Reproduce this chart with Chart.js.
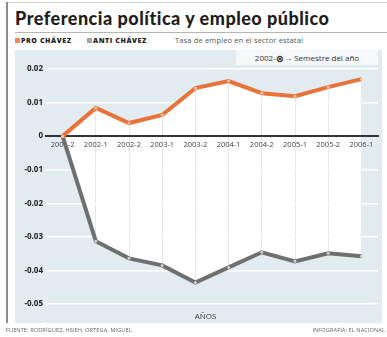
<!DOCTYPE html>
<html>
<head>
<meta charset="utf-8">
<script src="https://cdn.jsdelivr.net/npm/chart.js@4"></script>
<style>
  body { margin: 0; background: #fff; width: 387px; height: 337px; position: relative; overflow: hidden; font-family: "Open Sans", sans-serif; }
  .top { position: absolute; left: 6px; right: 0; top: 2px; height: 1px; background: #d4d4d4; }
  .edge { position: absolute; left: 6px; top: 2px; width: 2px; height: 321px; background: #8c8c8c; }
  h1 { position: absolute; left: 15px; top: 7px; margin: 0; font: 900 18px Lato, sans-serif; letter-spacing: 0.5px; color: #1e1e1e; white-space: nowrap; }
  .rule { position: absolute; left: 15px; right: 0; top: 32px; height: 1px; background: #b5b5b5; }
  .sq { position: absolute; top: 38px; width: 5px; height: 5px; }
  .lg { position: absolute; top: 35px; font-size: 7px; line-height: 11px; white-space: nowrap; }
  .lg.b { font-weight: 800; color: #222; letter-spacing: 0.6px; }
  .lg.n { font-size: 7.5px; color: #555; letter-spacing: 0.15px; }
  .panel { position: absolute; left: 15px; top: 50px; width: 367px; height: 273px; background: #e1ebf0; }
  .key { position: absolute; right: 4px; top: 0; width: 142px; height: 15px; background: #f6f9fa; font-size: 8px; color: #333; line-height: 15px; text-align: center; white-space: nowrap; }
  .key span { font: bold 10px "DejaVu Sans", sans-serif; vertical-align: -1px; }
  .axis { position: absolute; left: 0; width: 100%; bottom: 2px; text-align: center; font-size: 8px; color: #333; padding-left: 14px; box-sizing: border-box; }
  .foot { position: absolute; top: 326px; font-size: 5.6px; color: #666; white-space: nowrap; letter-spacing: 0.1px; }
  canvas { position: absolute; left: 0; top: 0; }
</style>
</head>
<body>
<div class="top"></div>
<div class="edge"></div>
<h1>Preferencia política y empleo público</h1>
<div class="rule"></div>
<div class="sq" style="left:15px;background:#ef8a4c"></div>
<div class="lg b" style="left:21px">PRO CHÁVEZ</div>
<div class="sq" style="left:87px;background:#a5a5a5"></div>
<div class="lg b" style="left:93px">ANTI CHÁVEZ</div>
<div class="lg n" style="left:175px">Tasa de empleo en el sector estatal</div>
<div class="panel">
  <div style="position:absolute;left:0;top:0;width:367px;height:273px"><canvas id="empleoChart"></canvas></div>
  <div class="key">2002-<span>⊗</span>→ Semestre del año</div>
  <div class="axis">AÑOS</div>
</div>
<div class="foot" style="left:6px">FUENTE: RODRÍGUEZ, HSIEH, ORTEGA, MIGUEL</div>
<div class="foot" style="right:2px">INFOGRAFÍA: EL NACIONAL</div>

<script>
// Semestres y tasa de empleo estatal por grupo
const semestres = ["2001-2", "2002-1", "2002-2", "2003-1", "2003-2", "2004-1", "2004-2", "2005-1", "2005-2", "2006-1"];
const proChavez = [0, 0.0084, 0.0039, 0.0063, 0.0143, 0.0164, 0.0128, 0.0119, 0.0146, 0.017];
const antiChavez = [0, -0.0313, -0.0364, -0.0385, -0.0436, -0.0391, -0.0346, -0.0373, -0.0349, -0.0358];
const yTicks = [0.02, 0.01, 0, -0.01, -0.02, -0.03, -0.04, -0.05];

new Chart(document.getElementById("empleoChart"), {
  type: 'line',
  data: {
    labels: semestres,
    datasets: [{
      label: 'PRO CHÁVEZ',
      data: proChavez,
      borderColor: '#e8733a',
      borderWidth: 4,
      pointRadius: 1.5,
      pointBackgroundColor: '#f7c9a8',
      pointBorderWidth: 0,
      tension: 0,
      // white band between the two series
      fill: { target: '+1', above: '#ffffff', below: '#ffffff' }
    }, {
      label: 'ANTI CHÁVEZ',
      data: antiChavez,
      borderColor: '#6f6f6f',
      borderWidth: 4,
      pointRadius: 1.5,
      pointBackgroundColor: '#d0d0d0',
      pointBorderWidth: 0,
      tension: 0,
      fill: false
    }]
  },
  options: {
    responsive: true,
    maintainAspectRatio: false,
    animation: false,
    layout: { padding: { top: 19, bottom: 19, right: 3, left: 0 } },
    plugins: {
      legend: { display: false },
      tooltip: { enabled: false },
      filler: { drawTime: 'beforeDraw' }
    },
    scales: {
      x: {
        position: { y: 0 },
        offset: true,
        grid: { offset: false, color: '#e3e9ec', lineWidth: 1, drawTicks: false },
        border: { color: '#333', width: 2 },
        ticks: { color: '#444', padding: 4, maxRotation: 0, autoSkip: false, font: { family: 'Open Sans', size: 7.5 } }
      },
      y: {
        min: -0.05,
        max: 0.02,
        afterBuildTicks: (scale) => { scale.ticks = yTicks.map(v => ({ value: v })); },
        afterFit: (scale) => { scale.width = 31; },
        grid: { color: '#ffffff', lineWidth: 1.5, drawTicks: false },
        border: { display: false },
        ticks: {
          color: '#222',
          padding: 3,
          font: { family: 'Open Sans', size: 8, weight: 'bold' },
          callback: (v) => v === 0 ? '0' : v.toFixed(2)
        }
      }
    }
  }
});
</script>
</body>
</html>
